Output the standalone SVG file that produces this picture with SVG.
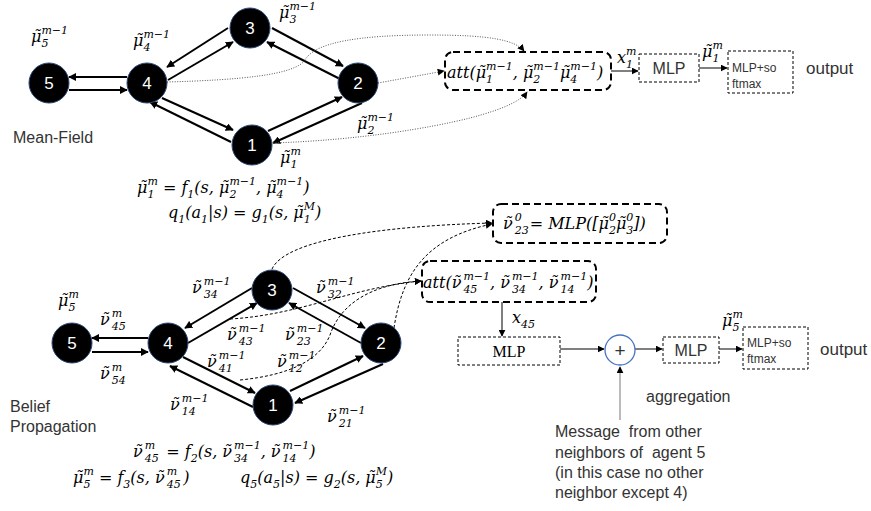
<svg xmlns="http://www.w3.org/2000/svg" width="871" height="511" viewBox="0 0 871 511">
<defs>
<style>
.m{font-family:"DejaVu Serif","Liberation Serif",serif;font-style:italic;font-size:16px;fill:#000}
.s{font-size:11px}
.sans{font-family:"Liberation Sans",Arial,sans-serif;fill:#333}
.node circle{fill:#000;stroke:#2c4a7a;stroke-width:1}
.node text{font-family:"Liberation Sans",Arial,sans-serif;font-size:17px;fill:#fff;text-anchor:middle}
.e{stroke:#000;stroke-width:2;fill:none;marker-end:url(#ah)}
.dot{stroke:#555;stroke-width:1;fill:none;stroke-dasharray:1 1.5;marker-end:url(#as)}
.dash{stroke:#000;stroke-width:1;fill:none;stroke-dasharray:3 2;marker-end:url(#as)}
.thin{stroke:#000;stroke-width:1;fill:none;marker-end:url(#as)}
.bigbox{fill:#fff;stroke:#000;stroke-width:2;stroke-dasharray:7 4}
.box{fill:#fff;stroke:#000;stroke-width:1;stroke-dasharray:3 2}
</style>
<marker id="ah" viewBox="0 0 10 10" refX="9" refY="5" markerUnits="userSpaceOnUse" markerWidth="8" markerHeight="8" orient="auto"><path d="M0,0 L10,5 L0,10 z" fill="#000"/></marker>
<marker id="as" viewBox="0 0 10 10" refX="9" refY="5" markerUnits="userSpaceOnUse" markerWidth="7" markerHeight="7" orient="auto"><path d="M0,0 L10,5 L0,10 z" fill="#000"/></marker>
</defs>
<rect width="871" height="511" fill="#fff"/>

<g id="connectors">
<path class="e" d="M127,77 L69,77"/>
<path class="e" d="M69,90 L127,90"/>
<path class="e" d="M228,28 L167,67"/>
<path class="e" d="M168,80 L233,42"/>
<path class="e" d="M272,28 L343,66"/>
<path class="e" d="M342,80 L267,42"/>
<path class="e" d="M162,98 L233,130"/>
<path class="e" d="M231,142 L150,102"/>
<path class="e" d="M268,131 L342,97"/>
<path class="e" d="M362,103 L273,143"/>
<path class="dot" d="M167,82 C240,80 295,75 305,60 C315,42 360,35 430,35 C490,35 515,40 524,51"/>
<path class="dot" d="M378,83 L444,71"/>
<path class="dot" d="M273,143 C360,140 430,128 470,118 C500,110 520,102 527,92"/>
<path class="thin" d="M611,71 L638,71"/>
<path class="thin" d="M699,68 L727,68"/>
<path class="e" d="M148,338 L92,338"/>
<path class="e" d="M92,352 L148,352"/>
<path class="e" d="M252,288 L185,328"/>
<path class="e" d="M188,343 L257,303"/>
<path class="e" d="M293,288 L365,328"/>
<path class="e" d="M361,343 L289,303"/>
<path class="e" d="M183,357 L255,393"/>
<path class="e" d="M253,407 L170,366"/>
<path class="e" d="M290,391 L363,356"/>
<path class="e" d="M383,364 L295,403"/>
<path class="dash" d="M272,269 C285,240 380,226 492,223"/>
<path class="dash" d="M394,328 C402,275 425,238 492,224"/>
<path class="dash" d="M230,319 C300,315 350,288 421,281"/>
<path class="dash" d="M240,380 C290,375 320,360 330,335 C340,305 370,284 421,281"/>
<path class="thin" d="M502,302 L502,336"/>
<path class="thin" d="M560,349 L604,349"/>
<path class="thin" d="M635,349 L662,349"/>
<path class="thin" d="M719,349 L742,349"/>
<path d="M620,420 L620,367" stroke="#777" stroke-width="1" fill="none" marker-end="url(#as)"/>
</g>

<g id="t5" class="node"><circle cx="49" cy="83" r="20"/><text x="49" y="89">5</text></g>
<g id="t4" class="node"><circle cx="147" cy="83" r="20"/><text x="147" y="89">4</text></g>
<g id="t3" class="node"><circle cx="250" cy="28" r="20"/><text x="250" y="34">3</text></g>
<g id="t2" class="node"><circle cx="358" cy="83" r="20"/><text x="358" y="89">2</text></g>
<g id="t1" class="node"><circle cx="252" cy="145" r="20"/><text x="252" y="151">1</text></g>

<g id="b5" class="node"><circle cx="72" cy="343" r="20"/><text x="72" y="349">5</text></g>
<g id="b4" class="node"><circle cx="168" cy="343" r="20"/><text x="168" y="349">4</text></g>
<g id="b3" class="node"><circle cx="272" cy="290" r="20"/><text x="272" y="296">3</text></g>
<g id="b2" class="node"><circle cx="381" cy="343" r="20"/><text x="381" y="349">2</text></g>
<g id="b1" class="node"><circle cx="273" cy="405" r="20"/><text x="273" y="411">1</text></g>

<g id="top-labels">
<text class="m" x="31" y="42">μ̃<tspan class="s" dy="5">5</tspan><tspan class="s" dx="-7" dy="-13">m−1</tspan></text>
<text class="m" x="133" y="46">μ̃<tspan class="s" dy="5">4</tspan><tspan class="s" dx="-7" dy="-13">m−1</tspan></text>
<text class="m" x="279" y="18">μ̃<tspan class="s" dy="5">3</tspan><tspan class="s" dx="-7" dy="-13">m−1</tspan></text>
<text class="m" x="357" y="129">μ̃<tspan class="s" dy="5">2</tspan><tspan class="s" dx="-7" dy="-13">m−1</tspan></text>
<text class="m" x="280" y="163">μ̃<tspan class="s" dy="5">1</tspan><tspan class="s" dx="-7" dy="-13">m</tspan></text>
<text class="sans" x="13" y="143" font-size="16">Mean-Field</text>
<text class="m" x="137" y="193">μ̃<tspan class="s" dy="5">1</tspan><tspan class="s" dx="-7" dy="-13">m</tspan><tspan dy="8"> = f</tspan><tspan class="s" dy="5">1</tspan><tspan dy="-5">(s, μ̃</tspan><tspan class="s" dy="5">2</tspan><tspan class="s" dx="-7" dy="-13">m−1</tspan><tspan dy="8">, μ̃</tspan><tspan class="s" dy="5">4</tspan><tspan class="s" dx="-7" dy="-13">m−1</tspan><tspan dy="8">)</tspan></text>
<text class="m" x="168" y="218">q<tspan class="s" dy="5">1</tspan><tspan dy="-5">(a</tspan><tspan class="s" dy="5">1</tspan><tspan dy="-5">|s) = g</tspan><tspan class="s" dy="5">1</tspan><tspan dy="-5">(s, μ̃</tspan><tspan class="s" dy="5">1</tspan><tspan class="s" dx="-7" dy="-13">M</tspan><tspan dy="8">)</tspan></text>
</g>

<g id="att-top"><rect class="bigbox" x="445" y="52" width="166" height="38" rx="8"/>
<text class="m" x="447" y="78">att(μ̃<tspan class="s" dy="5">1</tspan><tspan class="s" dx="-7" dy="-13">m−1</tspan><tspan dy="8">, μ̃</tspan><tspan class="s" dy="5">2</tspan><tspan class="s" dx="-7" dy="-13">m−1</tspan><tspan dy="8">μ̃</tspan><tspan class="s" dy="5">4</tspan><tspan class="s" dx="-7" dy="-13">m−1</tspan><tspan dy="8">)</tspan></text></g>
<text class="m" x="617" y="63">x<tspan class="s" dy="5">1</tspan><tspan class="s" dx="-7" dy="-13">m</tspan></text>
<g id="mlp-top"><rect class="box" x="639" y="54" width="60" height="28"/><text class="sans" x="669" y="74" font-size="16" text-anchor="middle">MLP</text></g>
<text class="m" x="702" y="57">μ̃<tspan class="s" dy="5">1</tspan><tspan class="s" dx="-7" dy="-13">m</tspan></text>
<g id="sm-top"><rect class="box" x="728" y="51" width="65" height="42"/><text class="sans" x="732" y="72" font-size="12">MLP+so</text><text class="sans" x="732" y="88" font-size="12">ftmax</text></g>
<text class="sans" x="806" y="74" font-size="17">output</text>

<g id="bottom-labels">
<text class="m" x="58" y="306">μ̃<tspan class="s" dy="5">5</tspan><tspan class="s" dx="-7" dy="-13">m</tspan></text>
<text class="m" x="100" y="325">ν̃<tspan class="s" dx="2" dy="5">45</tspan><tspan class="s" dx="-14" dy="-13">m</tspan></text>
<text class="m" x="100" y="379">ν̃<tspan class="s" dx="2" dy="5">54</tspan><tspan class="s" dx="-14" dy="-13">m</tspan></text>
<text class="m" x="192" y="293">ν̃<tspan class="s" dx="2" dy="5">34</tspan><tspan class="s" dx="-14" dy="-13">m−1</tspan></text>
<text class="m" x="316" y="293">ν̃<tspan class="s" dx="2" dy="5">32</tspan><tspan class="s" dx="-14" dy="-13">m−1</tspan></text>
<text class="m" x="227" y="340">ν̃<tspan class="s" dx="2" dy="5">43</tspan><tspan class="s" dx="-14" dy="-13">m−1</tspan></text>
<text class="m" x="285" y="340">ν̃<tspan class="s" dx="2" dy="5">23</tspan><tspan class="s" dx="-14" dy="-13">m−1</tspan></text>
<text class="m" x="207" y="367">ν̃<tspan class="s" dx="2" dy="5">41</tspan><tspan class="s" dx="-14" dy="-13">m−1</tspan></text>
<text class="m" x="277" y="367">ν̃<tspan class="s" dx="2" dy="5">12</tspan><tspan class="s" dx="-14" dy="-13">m−1</tspan></text>
<text class="m" x="170" y="410">ν̃<tspan class="s" dx="2" dy="5">14</tspan><tspan class="s" dx="-14" dy="-13">m−1</tspan></text>
<text class="m" x="327" y="422">ν̃<tspan class="s" dx="2" dy="5">21</tspan><tspan class="s" dx="-14" dy="-13">m−1</tspan></text>
<text class="sans" x="10" y="412" font-size="16">Belief</text>
<text class="sans" x="10" y="432" font-size="16">Propagation</text>
<text class="m" x="133" y="457">ν̃<tspan class="s" dx="2" dy="5">45</tspan><tspan class="s" dx="-14" dy="-13">m</tspan><tspan dx="6" dy="8"> = f</tspan><tspan class="s" dy="5">2</tspan><tspan dy="-5">(s, ν̃</tspan><tspan class="s" dx="2" dy="5">34</tspan><tspan class="s" dx="-14" dy="-13">m−1</tspan><tspan dy="8">, ν̃</tspan><tspan class="s" dx="2" dy="5">14</tspan><tspan class="s" dx="-14" dy="-13">m−1</tspan><tspan dy="8">)</tspan></text>
<text class="m" x="73" y="483">μ̃<tspan class="s" dy="5">5</tspan><tspan class="s" dx="-7" dy="-13">m</tspan><tspan dy="8"> = f</tspan><tspan class="s" dy="5">3</tspan><tspan dy="-5">(s, ν̃</tspan><tspan class="s" dx="2" dy="5">45</tspan><tspan class="s" dx="-14" dy="-13">m</tspan><tspan dx="6" dy="8">)</tspan></text>
<text class="m" x="240" y="483">q<tspan class="s" dy="5">5</tspan><tspan dy="-5">(a</tspan><tspan class="s" dy="5">5</tspan><tspan dy="-5">|s) = g</tspan><tspan class="s" dy="5">2</tspan><tspan dy="-5">(s, μ̃</tspan><tspan class="s" dy="5">5</tspan><tspan class="s" dx="-7" dy="-13">M</tspan><tspan dy="8">)</tspan></text>
</g>

<g id="v23-box"><rect class="bigbox" x="493" y="204" width="174" height="39" rx="8"/>
<text class="m" x="503" y="229">ν̃<tspan class="s" dx="2" dy="5">23</tspan><tspan class="s" dx="-14" dy="-13">0</tspan><tspan dx="8" dy="8">= MLP([μ̃</tspan><tspan class="s" dy="5">2</tspan><tspan class="s" dx="-7" dy="-13">0</tspan><tspan dy="8">μ̃</tspan><tspan class="s" dy="5">3</tspan><tspan class="s" dx="-7" dy="-13">0</tspan><tspan dy="8">])</tspan></text></g>
<g id="att-bottom"><rect class="bigbox" x="422" y="261" width="174" height="41" rx="8"/>
<text class="m" x="423" y="288">att(ν̃<tspan class="s" dx="2" dy="5">45</tspan><tspan class="s" dx="-14" dy="-13">m−1</tspan><tspan dy="8">, ν̃</tspan><tspan class="s" dx="2" dy="5">34</tspan><tspan class="s" dx="-14" dy="-13">m−1</tspan><tspan dy="8">, ν̃</tspan><tspan class="s" dx="2" dy="5">14</tspan><tspan class="s" dx="-14" dy="-13">m−1</tspan><tspan dy="8">)</tspan></text></g>
<text class="m" x="512" y="323">x<tspan class="s" dy="5">45</tspan></text>
<g id="mlp-b1"><rect class="box" x="458" y="337" width="102" height="28"/><text x="509" y="357" font-family="Liberation Serif, serif" font-size="16" text-anchor="middle">MLP</text></g>
<g id="plus"><circle cx="620" cy="350" r="15" fill="#fff" stroke="#4472c4" stroke-width="1.3"/><text class="sans" x="620" y="357" font-size="19" text-anchor="middle" fill="#222">+</text></g>
<g id="mlp-b2"><rect class="box" x="663" y="337" width="56" height="26"/><text class="sans" x="691" y="356" font-size="16" text-anchor="middle">MLP</text></g>
<text class="m" x="722" y="326">μ̃<tspan class="s" dy="5">5</tspan><tspan class="s" dx="-7" dy="-13">m</tspan></text>
<g id="sm-bottom"><rect class="box" x="743" y="327" width="65" height="42"/><text class="sans" x="747" y="347" font-size="12">MLP+so</text><text class="sans" x="747" y="363" font-size="12">ftmax</text></g>
<text class="sans" x="820" y="355" font-size="17">output</text>
<text class="sans" x="646" y="402" font-size="16">aggregation</text>
<g id="message" class="sans" font-size="16">
<text x="555" y="437" xml:space="preserve">Message  from other</text>
<text x="555" y="458" xml:space="preserve">neighbors of  agent 5</text>
<text x="555" y="478">(in this case no other</text>
<text x="555" y="498">neighbor except 4)</text>
</g>
</svg>
